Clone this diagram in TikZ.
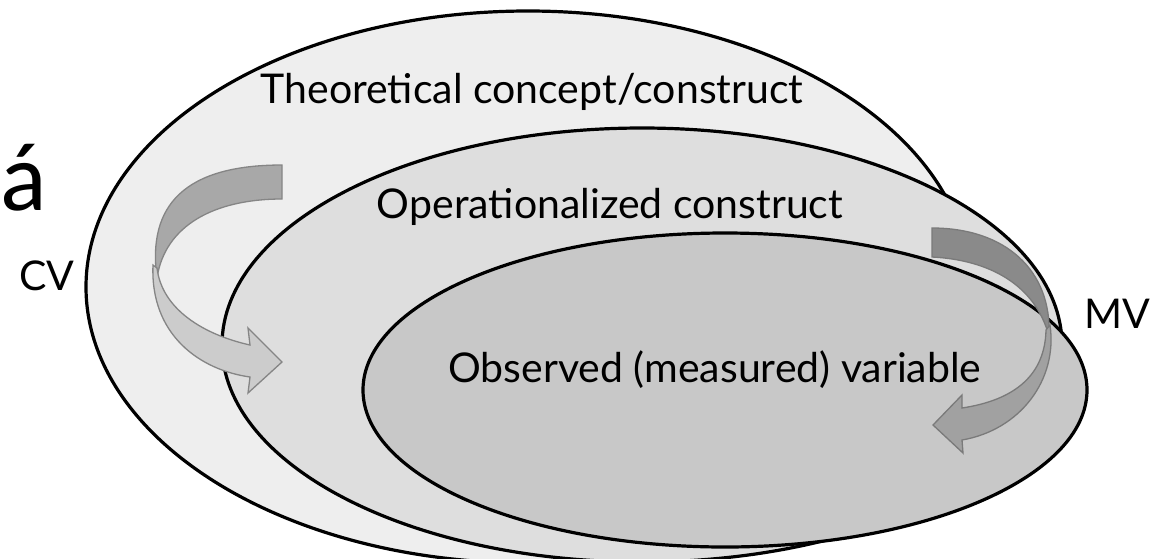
\documentclass[tikz,border=0pt]{standalone}
\usepackage{fontspec}
\setmainfont{Lato}
\newfontfamily\accfont{Carlito}
\definecolor{outerfill}{HTML}{EEEEEE}
\definecolor{midfill}{HTML}{DEDEDE}
\definecolor{innerfill}{HTML}{C8C8C8}
\begin{document}
\begin{tikzpicture}[
	x=1pt, y=-1pt,
	lbl/.style={font=\fontsize{41}{49}\selectfont, inner sep=0pt},
	ring/.style={draw=black, line width=3.2pt},
	cvback/.style={fill=black!34, draw=black!48, line width=1.3pt},
	cvfront/.style={fill=black!20, draw=black!48, line width=1.3pt},
	mvback/.style={fill=black!46, draw=black!52, line width=1.3pt},
	mvfront/.style={fill=black!37, draw=black!52, line width=1.3pt},
	]
\useasboundingbox (0,0) rectangle (1160,558);
% the three nested regions
\filldraw[ring, fill=outerfill] (528,287) ellipse [x radius=442, y radius=276];
\filldraw[ring, fill=midfill] (642,345) ellipse [x radius=420, y radius=217];
\filldraw[ring, fill=innerfill] (725,390) ellipse [x radius=362, y radius=157];
% CV arrow
\filldraw[cvback] (282,165) -- (282,199) .. controls (215,199) and (165,225) .. (157,278)
	.. controls (147,205) and (185,165) .. (282,165) -- cycle;
\filldraw[cvfront] (153,265) .. controls (150,335) and (200,370) .. (250,377)
	-- (248,393) -- (282,362) -- (248,328) -- (250,345)
	.. controls (205,335) and (162,310) .. (157,268) -- cycle;
% MV arrow
\filldraw[mvback] (932,228) -- (932,257) .. controls (990,260) and (1035,285) .. (1049,336)
	.. controls (1052,270) and (1005,228) .. (932,228) -- cycle;
\filldraw[mvfront] (1050,325) .. controls (1058,380) and (1020,430) .. (962,440)
	-- (963,453) -- (933,425) -- (962,395) -- (962,408)
	.. controls (1015,400) and (1045,375) .. (1046,330) -- cycle;
% labels
\node[lbl] (theo) at (532,92) {Theoretical concept/construct};
\node[lbl] (oper) at (610,207) {Operationalized construct};
\node[lbl] (obs) at (715,370) {Observed (measured) variable};
\node[lbl] (cv) at (47,276) {CV};
\node[lbl] (mv) at (1117,314) {MV};
\node[font=\accfont\fontsize{97}{110}\selectfont, inner sep=0pt, anchor=base west] (acc) at (0,210) {á};
\end{tikzpicture}
\end{document}
